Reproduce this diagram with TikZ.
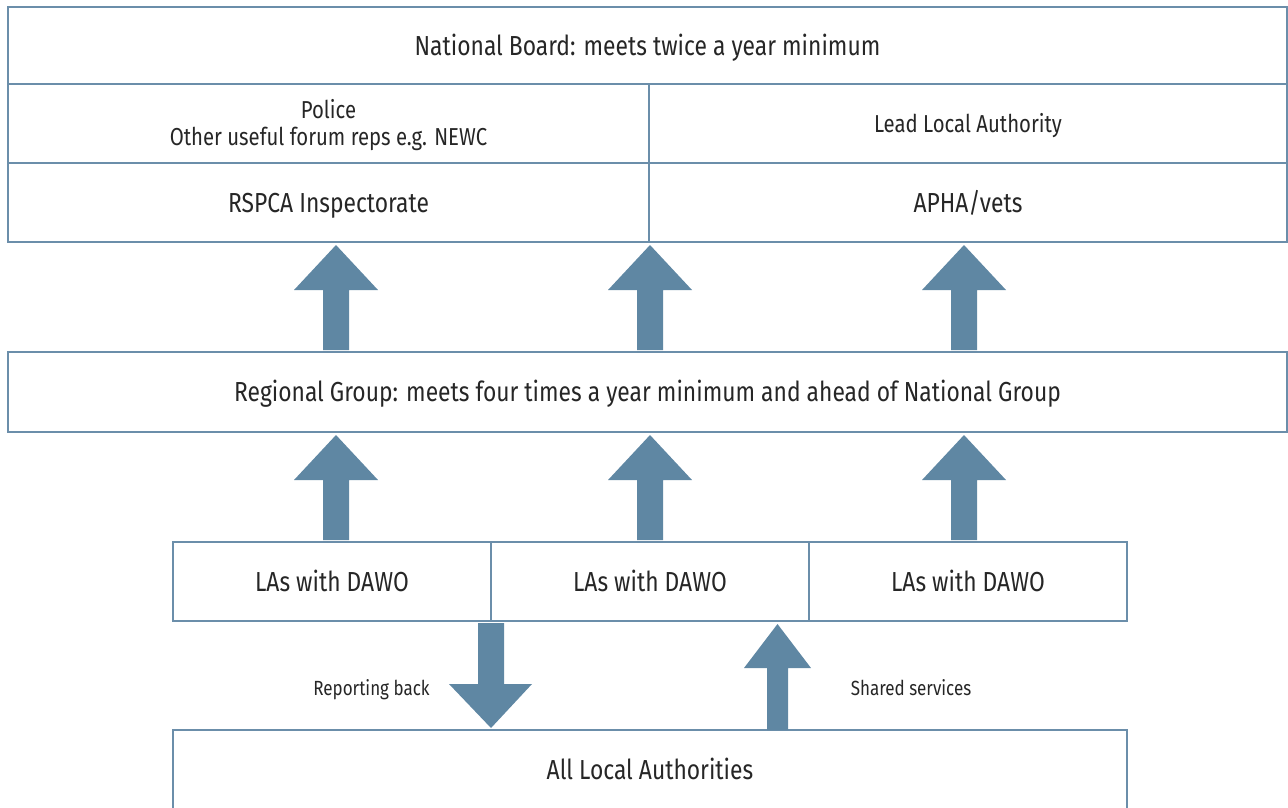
\documentclass[tikz,border=0pt]{standalone}
\usepackage{fontspec}
\setmainfont{Fira Sans}[FakeStretch=0.83]
\definecolor{bord}{HTML}{6B8EAA}
\definecolor{arr}{HTML}{5F87A3}
\tikzset{
  box/.style={draw=bord, line width=2.6pt, fill=white, inner sep=0pt, align=center, text=black!85, text depth=0pt},
  big/.style={font=\fontsize{27.5}{32}\selectfont, text height=19pt},
  mid/.style={font=\fontsize{24.5}{27}\selectfont, text height=17pt},
  midtwo/.style={font=\fontsize{24.5}{27}\selectfont, text height=44pt},
  lbl/.style={font=\fontsize{20.5}{24}\selectfont, text=black!85, inner sep=0pt, text height=14pt, text depth=0pt},
}
\newcommand\bx[7]{\node[box,#7, minimum width={(#4-#2)*1pt}, minimum height={(#5-#3)*1pt}] (#1) at ({(#2+#4)/2},{-(#3+#5)/2}) {#6};}
% up arrow: cx, shaft half, head half, ybottom, yheadbase, ytip
\newcommand\uparr[6]{\fill[arr] (#1-#2,-#4) -- (#1-#2,-#5) -- (#1-#3,-#5) -- (#1,-#6) -- (#1+#3,-#5) -- (#1+#2,-#5) -- (#1+#2,-#4) -- cycle;}
\begin{document}
\begin{tikzpicture}[x=1pt,y=1pt]
\useasboundingbox (0,0) rectangle (1288,-807);
% top block
\bx{board}{8}{7}{1287}{84}{National Board: meets twice a year minimum}{big}
\bx{police}{8}{84}{649}{163}{Police\\Other useful forum reps e.g. NEWC}{midtwo}
\bx{lla}{649}{84}{1287}{163}{Lead Local Authority}{mid}
\bx{rspca}{8}{163}{649}{242}{RSPCA Inspectorate}{big}
\bx{apha}{649}{163}{1287}{242}{APHA/vets}{big}
% regional
\bx{regional}{8}{352}{1287}{432}{Regional Group: meets four times a year minimum and ahead of National Group}{big}
% LAs
\bx{la1}{173}{542}{491}{621}{LAs with DAWO}{big}
\bx{la2}{491}{542}{809}{621}{LAs with DAWO}{big}
\bx{la3}{809}{542}{1127}{621}{LAs with DAWO}{big}
% all
\bx{all}{173}{730}{1127}{810}{All Local Authorities}{big}
% arrows regional -> top
\uparr{336}{13}{42}{350}{290}{245}
\uparr{650}{13}{42}{350}{290}{245}
\uparr{964}{13}{42}{350}{290}{245}
% arrows LAs -> regional
\uparr{336}{13}{42}{540}{480}{435}
\uparr{650}{13}{42}{540}{480}{435}
\uparr{964}{13}{42}{540}{480}{435}
% reporting back (down)
\fill[arr] (478,-623) -- (478,-684) -- (449,-684) -- (491,-728) -- (532,-684) -- (504,-684) -- (504,-623) -- cycle;
% shared services (up)
\uparr{777.5}{10.5}{33.5}{730}{668}{624}
\node[lbl] (rb) at (371.5,-688) {Reporting back};
\node[lbl] (ss) at (911,-688) {Shared services};
\end{tikzpicture}
\end{document}
